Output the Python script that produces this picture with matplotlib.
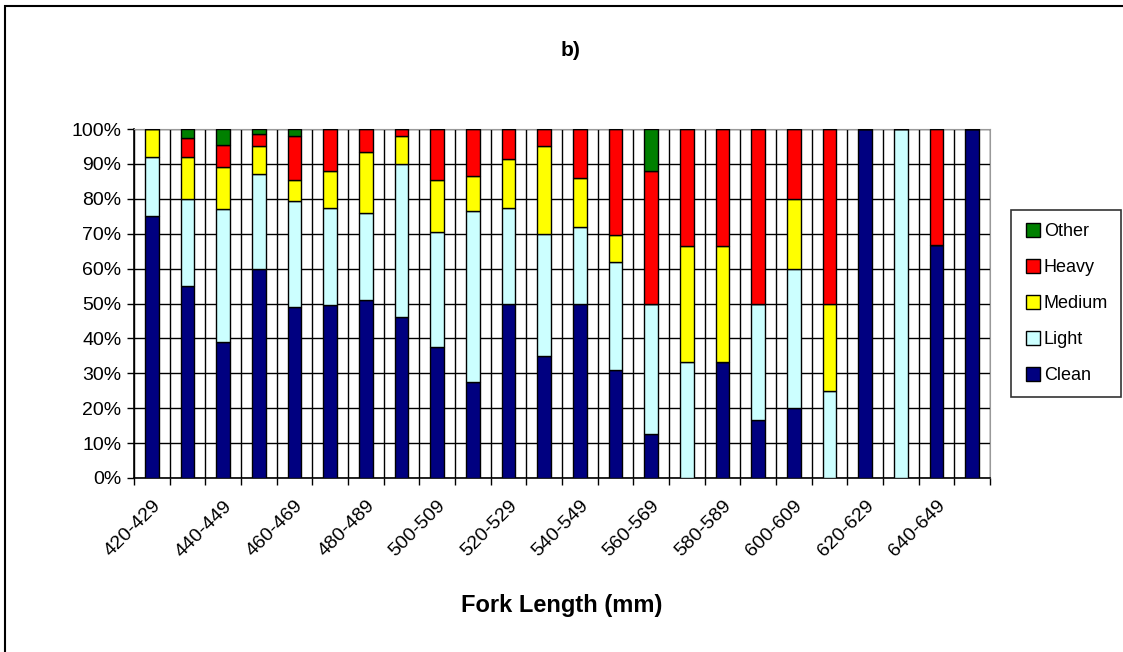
import numpy as np
import matplotlib
matplotlib.use("Agg")
import matplotlib.pyplot as plt
from matplotlib.patches import Rectangle
from matplotlib.lines import Line2D

plt.rcParams['font.family'] = ['Liberation Sans', 'DejaVu Sans']

# classes de comprimento (mm)
categorias = ["%d-%d" % (a, a + 9) for a in range(420, 660, 10)]

# percentagens por classe
clean = [75, 55, 39, 60, 49, 49.5, 51, 46, 37.5, 27.5, 50, 35, 50, 31, 12.5,
         0, 33.3, 16.7, 20, 0, 100, 0, 66.7, 100]
light = [17, 25, 38, 27, 30.5, 28, 25, 44, 33, 49, 27.5, 35, 22, 31, 37.5,
         33.3, 0, 33.3, 40, 25, 0, 100, 0, 0]
medium = [8, 12, 12, 8, 6, 10.5, 17.5, 8, 15, 10, 14, 25, 14, 7.5, 0,
          33.3, 33.3, 0, 20, 25, 0, 0, 0, 0]
heavy = [0, 5.5, 6.5, 3.5, 12.5, 12, 6.5, 2, 14.5, 13.5, 8.5, 5, 14, 30.5, 38,
         33.4, 33.4, 50, 20, 50, 0, 0, 33.3, 0]
other = [0, 2.5, 4.5, 1.5, 2, 0, 0, 0, 0, 0, 0, 0, 0, 0, 12,
         0, 0, 0, 0, 0, 0, 0, 0, 0]

series = [("Clean", clean, "#000080"),
          ("Light", light, "#CCFFFF"),
          ("Medium", medium, "#FFFF00"),
          ("Heavy", heavy, "#FF0000"),
          ("Other", other, "#008000")]

fig = plt.figure(figsize=(11.23, 6.52), dpi=100)
ax = fig.add_axes([0.1193, 0.2669, 0.7623, 0.5352])

x = np.arange(len(categorias))
base = np.zeros(len(categorias))
handles = []
for nome, vals, cor in series:
    vals = np.array(vals, dtype=float)
    ax.bar(x, vals, width=0.38, bottom=base, color=cor, edgecolor="black",
           linewidth=1.0, zorder=3)
    base = base + vals
    handles.append(Line2D([], [], marker="s", linestyle="none", markersize=10,
                          markerfacecolor=cor, markeredgecolor="black",
                          markeredgewidth=1, label=nome))

ax.set_xlim(-0.5, len(categorias) - 0.5)
ax.set_ylim(0, 100)

# grelha
ax.set_yticks(np.arange(0, 101, 10))
ax.set_yticklabels(["%d%%" % v for v in range(0, 101, 10)], fontsize=14)
ax.set_xticks(x[::2])
ax.set_xticklabels(categorias[::2], rotation=45, ha="right",
                   rotation_mode="anchor", fontsize=14)
ax.set_xticks(np.arange(-0.5, len(categorias)), minor=True)
ax.tick_params(axis="x", which="major", length=0, pad=14)
ax.tick_params(axis="x", which="minor", length=5, width=1, color="black")
ax.tick_params(axis="y", length=5, width=1, color="black", pad=4)
ax.grid(axis="y", which="major", color="black", linewidth=1, zorder=1)
ax.grid(axis="x", which="minor", color="black", linewidth=1, zorder=1)
ax.set_axisbelow(True)

for s in ["top", "right"]:
    ax.spines[s].set_color("#999999")
for s in ["left", "bottom"]:
    ax.spines[s].set_color("black")
    ax.spines[s].set_linewidth(1.2)

fig.text(0.508, 0.922, "b)", fontsize=15, fontweight="bold",
         ha="center", va="center")
fig.text(0.500, 0.072, "Fork Length (mm)", fontsize=17, fontweight="bold",
         ha="center", va="center")

leg = ax.legend(handles=handles[::-1], loc="center left",
                bbox_to_anchor=(1.025, 0.5), frameon=True, fancybox=False,
                fontsize=13, handletextpad=0.1, labelspacing=1.05,
                handlelength=1.0, borderpad=0.7, borderaxespad=0,
                edgecolor="black")
leg.get_frame().set_linewidth(1.2)

# moldura exterior
fig.patches.append(Rectangle((5 / 1123, -0.1), 1.2, 1.1 - 6 / 652,
                             transform=fig.transFigure, fill=False,
                             edgecolor="black", linewidth=1.5))

fig.savefig("out.png", dpi=100)
